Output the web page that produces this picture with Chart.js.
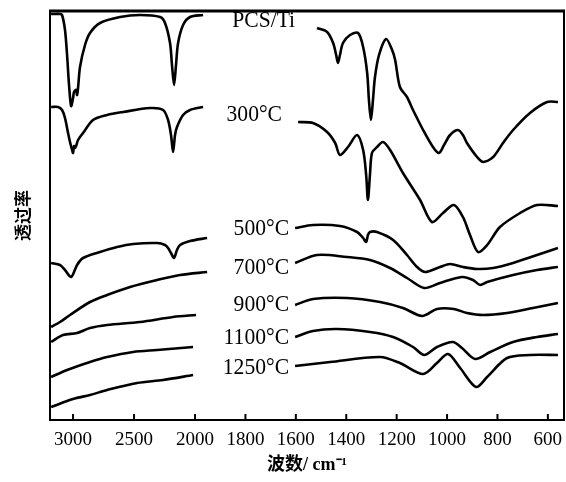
<!DOCTYPE html>
<html>
<head>
<meta charset="utf-8">
<script src="https://cdn.jsdelivr.net/npm/chart.js@4.4.1/dist/chart.umd.min.js"></script>
<style>
html, body { margin: 0; padding: 0; background: #fff; }
</style>
</head>
<body>
<canvas id="ir" width="566" height="482"></canvas>
<script>
// tick positions on the wavenumber axis (cm-1)
const tickWn = [3000, 2500, 2000, 1800, 1600, 1400, 1200, 1000, 800, 600];
const sampleNames = ['PCS/Ti', '300°C', '500°C', '700°C', '900°C', '1100°C', '1250°C'];

// each spectrum: left part (3200-1950) and right part (1600-560), transmittance in arbitrary units
const pcsLeftWn = [3180, 3107, 3090, 3066, 3049, 3033, 3016, 3000, 2992, 2975, 2967, 2959, 2943, 2902, 2861, 2779, 2615, 2451, 2287, 2246, 2205, 2189, 2172, 2156, 2139, 2098, 2041, 1968];
const pcsLeftT = [406, 406, 405, 390, 365, 335, 314, 322, 328, 330, 325, 332, 353, 375, 387, 397, 403, 405, 403, 397, 377, 355, 335, 355, 377, 395, 403, 405];
const pcsRightWn = [1516, 1476, 1452, 1440, 1433, 1425, 1413, 1385, 1353, 1333, 1317, 1310, 1302, 1294, 1286, 1270, 1242, 1218, 1206, 1187, 1159, 1135, 1095, 1056, 1032, 1012, 988, 957, 937, 921, 881, 857, 817, 778, 738, 671, 603, 560];
const pcsRightT = [392, 388, 377, 365, 357, 365, 377, 385, 387, 373, 347, 320, 300, 320, 343, 365, 381, 370, 360, 333, 323, 310, 290, 273, 267, 275, 285, 290, 285, 277, 263, 258, 263, 277, 290, 307, 318, 318];

const t300LeftWn = [3180, 3123, 3090, 3066, 3041, 3025, 3008, 3000, 2992, 2984, 2975, 2959, 2918, 2836, 2721, 2590, 2369, 2262, 2221, 2197, 2180, 2164, 2148, 2098, 2041, 1968];
const t300LeftT = [313, 313, 310, 302, 287, 278, 270, 267, 274, 272, 274, 280, 287, 300, 305, 308, 312, 310, 300, 285, 268, 285, 293, 305, 310, 313];
const t300RightWn = [1591, 1532, 1476, 1444, 1425, 1393, 1357, 1333, 1321, 1314, 1306, 1298, 1278, 1254, 1226, 1175, 1107, 1060, 1016, 973, 937, 909, 877, 841, 790, 710, 643, 560];
const t300RightT = [298, 297, 288, 277, 265, 273, 285, 270, 245, 220, 245, 267, 273, 278, 270, 247, 220, 198, 207, 215, 203, 185, 168, 175, 193, 207, 215, 214];

const t500LeftWn = [3180, 3107, 3066, 3016, 2967, 2918, 2779, 2639, 2508, 2311, 2246, 2221, 2197, 2172, 2148, 2123, 2041, 1952];
const t500LeftT = [157, 155, 150, 143, 155, 162, 168, 173, 176, 177, 175, 172, 167, 162, 170, 175, 179, 182];
const t500RightWn = [1603, 1532, 1425, 1357, 1333, 1321, 1314, 1306, 1278, 1214, 1159, 1119, 1087, 1028, 988, 937, 881, 817, 738, 643, 560];
const t500RightT = [192, 195, 194, 188, 182, 178, 185, 188, 188, 180, 165, 153, 148, 153, 156, 153, 151, 152, 157, 165, 172];

const t700LeftWn = [3180, 3107, 3025, 2861, 2721, 2533, 2311, 2123, 1952];
const t700LeftT = [93, 98, 105, 118, 125, 133, 140, 145, 148];
const t700RightWn = [1603, 1516, 1397, 1306, 1226, 1159, 1091, 1028, 941, 897, 869, 841, 738, 643, 560];
const t700RightT = [157, 165, 163, 160, 152, 142, 132, 137, 143, 140, 135, 138, 145, 150, 153];

const t900LeftWn = [3180, 3082, 2967, 2861, 2721, 2451, 2180, 1996];
const t900LeftT = [78, 85, 87, 92, 95, 98, 103, 105];
const t900RightWn = [1603, 1532, 1397, 1266, 1175, 1099, 1040, 973, 921, 857, 762, 659, 560];
const t900RightT = [115, 121, 122, 118, 112, 104, 111, 111, 107, 105, 107, 112, 117];

const t1100LeftWn = [3180, 3049, 2861, 2721, 2508, 2311, 2016];
const t1100LeftT = [43, 50, 58, 63, 68, 70, 73];
const t1100RightWn = [1603, 1532, 1437, 1306, 1214, 1135, 1091, 1040, 977, 941, 889, 829, 738, 643, 560];
const t1100RightT = [83, 89, 91, 88, 83, 73, 65, 73, 78, 72, 61, 68, 78, 83, 86];

const t1250LeftWn = [3180, 3000, 2861, 2721, 2475, 2262, 2016];
const t1250LeftT = [13, 21, 25, 30, 37, 40, 45];
const t1250RightWn = [1603, 1464, 1266, 1187, 1095, 1040, 996, 948, 885, 841, 762, 671, 560];
const t1250RightT = [54, 58, 63, 57, 46, 57, 66, 52, 33, 43, 62, 65, 65];

// axis is compressed above 2000 cm-1
const BREAK = 2000;
const SQUEEZE = 0.484;
function toAxis(wn) { return wn > BREAK ? BREAK + (wn - BREAK) * SQUEEZE : wn; }
function fromAxis(u) { return u > BREAK ? BREAK + (u - BREAK) / SQUEEZE : u; }

function spectrum(lw, lt, rw, rt) {
    const pts = lw.map((w, i) => ({ x: toAxis(w), y: lt[i] }));
    pts.push({ x: toAxis((lw[lw.length - 1] + rw[0]) / 2), y: null }); // gap between the two parts
    rw.forEach((w, i) => pts.push({ x: toAxis(w), y: rt[i] }));
    return pts;
}

const series = [
    spectrum(pcsLeftWn, pcsLeftT, pcsRightWn, pcsRightT),
    spectrum(t300LeftWn, t300LeftT, t300RightWn, t300RightT),
    spectrum(t500LeftWn, t500LeftT, t500RightWn, t500RightT),
    spectrum(t700LeftWn, t700LeftT, t700RightWn, t700RightT),
    spectrum(t900LeftWn, t900LeftT, t900RightWn, t900RightT),
    spectrum(t1100LeftWn, t1100LeftT, t1100RightWn, t1100RightT),
    spectrum(t1250LeftWn, t1250LeftT, t1250RightWn, t1250RightT)
];

// where each sample name sits (right edge of text, in wavenumber / transmittance)
const labelSpots = [[1603, 399], [1655, 305], [1627, 191], [1627, 152], [1627, 115], [1627, 82], [1627, 52]];

const serif = "'Liberation Serif', 'Times New Roman', 'Noto Sans CJK SC', serif";

// frame, inward ticks and the sample names
const decor = {
    id: 'decor',
    afterDraw(chart) {
        const ctx = chart.ctx;
        const a = chart.chartArea;
        const xs = chart.scales.x;
        const ys = chart.scales.y;
        ctx.save();
        ctx.strokeStyle = '#000';
        ctx.lineWidth = 2;
        ctx.strokeRect(a.left, a.top, a.right - a.left, a.bottom - a.top);
        ctx.lineWidth = 3;
        ctx.beginPath();
        ctx.moveTo(a.left - 1, a.top);
        ctx.lineTo(a.right + 1, a.top);
        ctx.stroke();
        ctx.lineWidth = 2;
        xs.ticks.forEach(t => {
            const px = xs.getPixelForValue(t.value);
            ctx.beginPath();
            ctx.moveTo(px, a.bottom);
            ctx.lineTo(px, a.bottom - 6);
            ctx.stroke();
        });
        ctx.fillStyle = '#000';
        ctx.font = '24px ' + serif;
        ctx.textAlign = 'right';
        ctx.textBaseline = 'middle';
        sampleNames.forEach((name, i) => {
            const [w, t] = labelSpots[i];
            const px = xs.getPixelForValue(toAxis(w));
            const py = ys.getPixelForValue(t);
            // narrow type, like the original print
            ctx.save();
            ctx.translate(px, py);
            ctx.scale(0.9, 1);
            ctx.fillText(name, 0, 0);
            ctx.restore();
        });
        ctx.restore();
    }
};

new Chart(document.getElementById('ir'), {
    type: 'line',
    data: {
        datasets: series.map((pts, i) => ({
            label: sampleNames[i],
            data: pts,
            borderColor: '#000',
            borderWidth: 2.6,
            pointRadius: 0,
            tension: 0.3,
            spanGaps: false,
            fill: false
        }))
    },
    options: {
        responsive: false,
        animation: false,
        layout: { padding: { top: 11, right: 2, left: 0, bottom: 0 } },
        plugins: { legend: { display: false }, tooltip: { enabled: false } },
        scales: {
            x: {
                type: 'linear',
                reverse: true,
                min: toAxis(536),
                max: toAxis(3189),
                grid: { display: false, drawTicks: false },
                border: { display: false },
                afterBuildTicks: scale => {
                    scale.ticks = tickWn.map(w => ({ value: toAxis(w) }));
                },
                afterFit: scale => {
                    scale.height = 62;
                    scale.paddingLeft = 0;
                    scale.paddingRight = 0;
                },
                ticks: {
                    autoSkip: false,
                    maxRotation: 0,
                    padding: 9,
                    color: '#000',
                    font: { family: serif, size: 19 },
                    callback: v => String(Math.round(fromAxis(v)))
                },
                title: {
                    display: true,
                    text: '波数/ cm⁻¹',
                    color: '#000',
                    font: { family: serif, size: 18, weight: 'bold' },
                    padding: { top: 0, bottom: 6 }
                }
            },
            y: {
                min: 0,
                max: 409,
                grid: { display: false, drawTicks: false },
                border: { display: false },
                ticks: { display: false },
                afterFit: scale => { scale.width = 50; },
                title: {
                    display: true,
                    text: '透过率',
                    color: '#000',
                    font: { family: "'Noto Sans CJK SC', sans-serif", size: 17, weight: 'bold' },
                    padding: { top: 12, bottom: 0 }
                }
            }
        }
    },
    plugins: [decor]
});
</script>
</body>
</html>
